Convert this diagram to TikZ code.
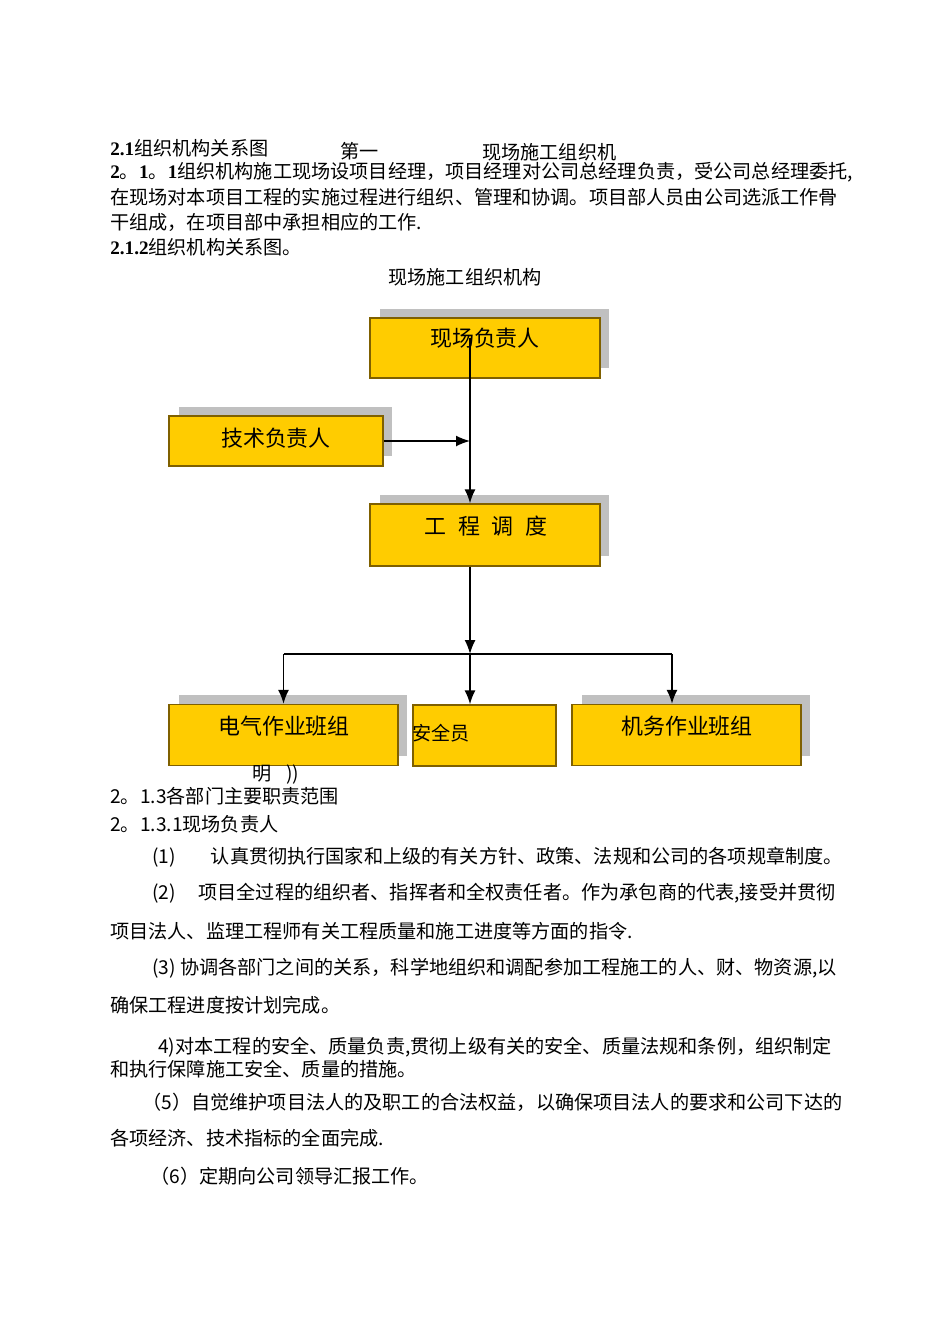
\documentclass[tikz,border=0pt]{standalone}
\usepackage{fontspec}
\setmainfont{Liberation Serif}
\newfontfamily\cjk{Noto Sans CJK SC}
\usetikzlibrary{arrows.meta,shadows}
\definecolor{boxyellow}{HTML}{FFCC00}
\definecolor{boxedge}{HTML}{7F6000}
\definecolor{shadowgray}{HTML}{C0C0C0}
\newcommand\bnum[1]{{\rmfamily\bfseries #1}}
\tikzset{
  orgbox/.style={draw=boxedge, fill=boxyellow, line width=0.8pt, inner sep=0pt, minimum height=1.22cm},
  shadowed/.style={drop shadow={shadow xshift=0.19cm, shadow yshift=0.19cm, fill=shadowgray, opacity=1}},
  boxlabel/.style={font=\cjk\fontsize{12.5}{14}\selectfont, inner sep=0pt},
  para/.style={anchor=west, inner sep=0pt, font=\cjk\fontsize{10.9}{13}\selectfont},
  link/.style={->, >={Latex[length=2.8mm,width=2.2mm]}, line width=0.9pt},
}
\begin{document}
\begin{tikzpicture}[x=0.02cm, y=-0.02cm]
    \fill[white] (0,0) rectangle (950,1344);
    \useasboundingbox (0,0) rectangle (950,1344);

    % Heading text
    \node[para] (h1) at (110,148) {\bnum{2.1}组织机构关系图};
    \node[para] (h1b) at (340,151) {第一};
    \node[para] (h1c) at (482,152) {现场施工组织机};
    \node[para] (p1) at (110,172) {\bnum{2}。\bnum{1}。\bnum{1}组织机构施工现场设项目经理，项目经理对公司总经理负责，受公司总经理委托,};
    \node[para] (p2) at (110,197) {在现场对本项目工程的实施过程进行组织、管理和协调。项目部人员由公司选派工作骨};
    \node[para] (p3) at (110,222) {干组成，在项目部中承担相应的工作.};
    \node[para] (h2) at (110,247) {\bnum{2.1.2}组织机构关系图。};
    \node[para, anchor=center] (title) at (465,277) {现场施工组织机构};

    % Boxes
    \node[orgbox, shadowed, minimum width=4.6cm, minimum height=1.2cm] (site) at (485,348) {};
    \node[boxlabel] (siteT) at (485,338) {现场负责人};
    \node[orgbox, shadowed, minimum width=4.28cm, minimum height=1cm] (tech) at (276,441) {};
    \node[boxlabel] (techT) at (276,438) {技术负责人};
    \node[orgbox, shadowed, minimum width=4.6cm, minimum height=1.24cm] (disp) at (485,535) {};
    \node[boxlabel] (dispT) at (486,526) {工\hspace{0.24cm}程\hspace{0.24cm}调\hspace{0.24cm}度};
    \node[orgbox, shadowed, minimum width=4.58cm] (elec) at (283.5,735) {};
    \node[boxlabel] (elecT) at (284,726) {电气作业班组};
    \node[orgbox, minimum width=2.86cm] (safe) at (484.5,735.5) {};
    \node[para] (safeT) at (safe.west |- 0,733) {安全员};
    \node[orgbox, shadowed, minimum width=4.58cm] (mech) at (686.5,735) {};
    \node[boxlabel] (mechT) at (687,726) {机务作业班组};
    \node[para] (ming) at (252,775) {明\hspace{0.3cm}))};

    % Connectors
    \coordinate (spine) at (470,0);
    \coordinate (mechx) at (672,0);
    \coordinate (bus) at (470,654);
    \draw[link] (siteT -| spine) -- (disp.north -| spine);
    \draw[link] (tech.east) -- (tech.east -| spine);
    \draw[link] (disp.south -| spine) -- (bus);
    \draw[line width=0.9pt] (elec.north |- bus) -- (mechx |- bus);
    \draw[link] (elec.north |- bus) -- (elec.north);
    \draw[link] (bus) -- (bus |- safe.north);
    \draw[link] (mechx |- bus) -- (mechx |- mech.north);

    % Duties text
    \node[para] (d0) at (110,796) {2。1.3各部门主要职责范围};
    \node[para] (d1) at (110,824) {2。1.3.1现场负责人};
    \node[para] (d2) at (152,857) {(1)\hspace{0.7cm}认真贯彻执行国家和上级的有关方针、政策、法规和公司的各项规章制度。};
    \node[para] (d3) at (152,893) {(2)\hspace{0.45cm}项目全过程的组织者、指挥者和全权责任者。作为承包商的代表,接受并贯彻};
    \node[para] (d4) at (110,931) {项目法人、监理工程师有关工程质量和施工进度等方面的指令.};
    \node[para] (d5) at (152,968) {(3) 协调各部门之间的关系，科学地组织和调配参加工程施工的人、财、物资源,以};
    \node[para] (d6) at (110,1005) {确保工程进度按计划完成。};
    \node[para] (d7) at (158,1047) {4)对本工程的安全、质量负责,贯彻上级有关的安全、质量法规和条例，组织制定};
    \node[para] (d8) at (110,1069) {和执行保障施工安全、质量的措施。};
    \node[para] (d9) at (142,1102) {（5）自觉维护项目法人的及职工的合法权益，以确保项目法人的要求和公司下达的};
    \node[para] (d10) at (110,1138) {各项经济、技术指标的全面完成.};
    \node[para] (d11) at (150,1176) {（6）定期向公司领导汇报工作。};
\end{tikzpicture}
\end{document}
